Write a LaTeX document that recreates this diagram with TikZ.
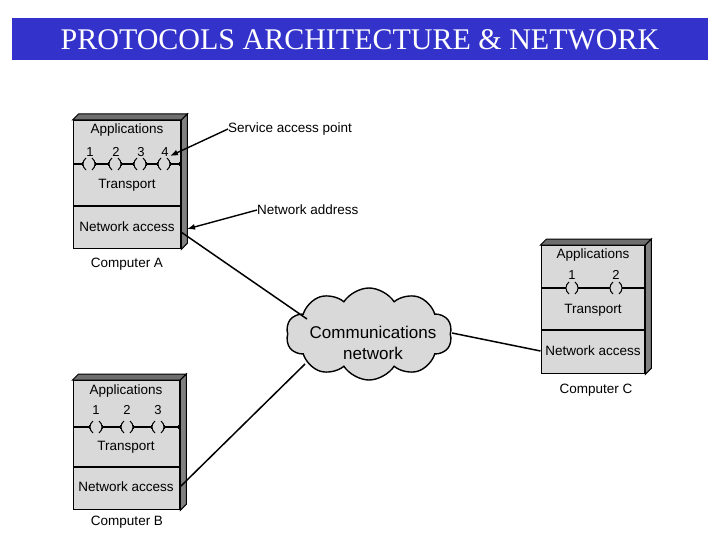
\documentclass[tikz,border=0pt]{standalone}
\usepackage{fontspec}
\setmainfont{Liberation Serif}
\newfontfamily\arial{Liberation Sans}
\usetikzlibrary{shapes.symbols,arrows.meta,calc}
\definecolor{titleblue}{HTML}{3333CC}
\definecolor{boxgray}{HTML}{D9D9D9}
\definecolor{sidegray}{HTML}{808080}
\definecolor{topgray}{HTML}{6E6E6E}
\tikzset{
  front/.style={draw=black,line width=1.3pt,fill=boxgray,anchor=north west,inner sep=0pt},
  lbl/.style={font=\arial\fontsize{13.5}{15}\selectfont,inner sep=0pt},
  num/.style={font=\arial\fontsize{13}{14}\selectfont,inner sep=0pt},
  conn/.style={line width=1.5pt},
  seg/.style={line width=1.3pt,{Bar[width=4.5pt,line width=1pt]}-{Bar[width=4.5pt,line width=1pt]}},
  paren/.style={line width=1pt},
  pointer/.style={line width=1.4pt,-{Latex[length=8pt,width=6pt]}},
}
\newcommand{\threed}[1]{%
  \fill[topgray,draw=black,line width=1pt] (#1.north west) -- ++(6,-6) -- ($(#1.north east)+(6,-6)$) -- (#1.north east) -- cycle;
  \fill[sidegray,draw=black,line width=1pt] (#1.north east) -- ++(6,-6) -- ($(#1.south east)+(6,-6)$) -- (#1.south east) -- cycle;
}
% port parentheses centred at (#1,#2)
\newcommand{\portpar}[2]{%
  \draw[paren] (#1-3,#2-6) .. controls (#1-7,#2-3) and (#1-7,#2+3) .. (#1-3,#2+6);
  \draw[paren] (#1+3,#2-6) .. controls (#1+7,#2-3) and (#1+7,#2+3) .. (#1+3,#2+6);
}
\begin{document}
\begin{tikzpicture}[x=1pt,y=-1pt]
\useasboundingbox (0,0) rectangle (720,540);
\fill[white] (0,0) rectangle (720,540);
% title
\node[fill=titleblue,minimum width=696pt,minimum height=42pt,inner sep=0pt,anchor=north west] (titlebar) at (12,18) {};
\node[text=white,font=\fontsize{30}{32}\selectfont,inner sep=0pt] (title) at (360,40) {PROTOCOLS ARCHITECTURE \& NETWORK};

% ---------- Computer A ----------
\node[front,minimum width=107.5pt,minimum height=128pt] (A) at (72.5,120) {};
\threed{A}
\draw[line width=1.3pt] (A.west |- 0,206) -- (A.east |- 0,206);
\node[lbl] (Aapp) at (127,130) {Applications};
\node[lbl] (Atr) at (127,185) {Transport};
\node[lbl] (Anet) at (127,227) {Network access};
\node[lbl] (Alab) at (127,264) {Computer A};
\foreach \c/\n in {89/1,115/2,140/3,164/4}{
  \portpar{\c}{164}
  \node[num] (Ap\n) at (\c+1,152) {\n};
}
\draw[seg] (72.5,164) -- (83,164);
\draw[seg] (95,164) -- (109,164);
\draw[seg] (121,164) -- (134,164);
\draw[seg] (146,164) -- (158,164);
\draw[seg] (170,164) -- (180,164);

% ---------- Computer B ----------
\node[front,minimum width=106.5pt,minimum height=129pt] (B) at (72.5,380) {};
\threed{B}
\draw[line width=1.3pt] (B.west |- 0,467) -- (B.east |- 0,467);
\node[lbl] (Bapp) at (126,391) {Applications};
\node[lbl] (Btr) at (126,447) {Transport};
\node[lbl] (Bnet) at (126,487) {Network access};
\node[lbl] (Blab) at (127,522) {Computer B};
\foreach \c/\n in {96/1,127/2,158/3}{
  \portpar{\c}{427}
  \node[num] (Bp\n) at (\c,410) {\n};
}
\draw[seg] (72.5,427) -- (90,427);
\draw[seg] (102,427) -- (121,427);
\draw[seg] (133,427) -- (152,427);
\draw[seg] (164,427) -- (179,427);

% ---------- Computer C ----------
\node[front,minimum width=103.5pt,minimum height=128pt] (C) at (540.5,245) {};
\threed{C}
\draw[line width=1.3pt] (C.west |- 0,330) -- (C.east |- 0,330);
\node[lbl] (Capp) at (593,255) {Applications};
\node[lbl] (Ctr) at (593,310) {Transport};
\node[lbl] (Cnet) at (593,351) {Network access};
\node[lbl] (Clab) at (596,390) {Computer C};
\foreach \c/\n in {572/1,616/2}{
  \portpar{\c}{288}
  \node[num] (Cp\n) at (\c,275) {\n};
}
\draw[line width=1.3pt] (540.5,288) -- (566,288);
\draw[line width=1.3pt] (578,288) -- (610,288);
\draw[line width=1.3pt] (622,288) -- (644,288);

% ---------- Cloud ----------
\node[cloud,cloud puffs=10,cloud puff arc=115,aspect=1.75,draw=black,line width=1.4pt,fill=boxgray,
      minimum width=166pt,minimum height=92pt,inner sep=0pt] (net) at (369,334) {};
\node[font=\arial\fontsize{17}{21}\selectfont,align=center,inner sep=0pt] (nettext) at (373,343) {Communications\\network};

% connectors
\coordinate (Aout) at (181,232);
\coordinate (netA) at (307,319);
\coordinate (Bout) at (181,486);
\coordinate (netB) at (305,364);
\coordinate (netC) at (452,333);
\coordinate (Cin) at (540.5,351);
\draw[conn] (Aout) -- (netA);
\draw[conn] (Bout) -- (netB);
\draw[conn] (netC) -- (Cin);

% annotations
\node[lbl,anchor=west] (sap) at (228,129) {Service access point};
\node[lbl,anchor=west] (naddr) at (257,210) {Network address};
\coordinate (port4) at (170,156);
\coordinate (nacc) at (187,229);
\draw[pointer] (sap.west) -- (port4);
\draw[pointer] (naddr.west) -- (nacc);
\end{tikzpicture}
\end{document}
